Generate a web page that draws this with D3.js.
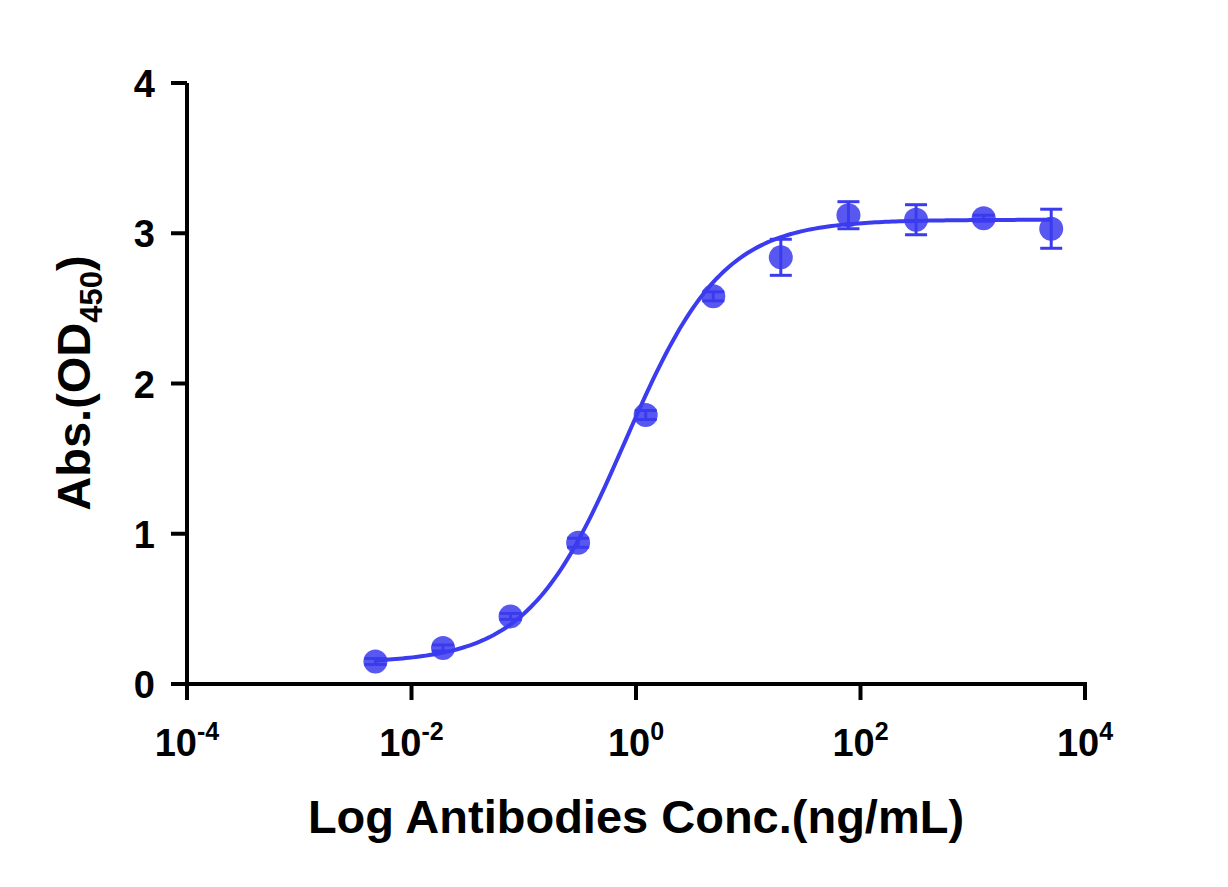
<!DOCTYPE html>
<html><head><meta charset="utf-8">
<script src="https://cdn.jsdelivr.net/npm/d3@7"></script>
<style>body{margin:0;background:#fff}svg{font-family:"Liberation Sans",Arial,sans-serif;font-weight:bold}</style>
</head><body><svg id="c" width="1228" height="887"></svg>
<script>
const conc = [0.00477,0.0191,0.0763,0.305,1.22,4.88,19.5,78.1,312.5,1250,5000];
const od = [0.15,0.24,0.45,0.94,1.79,2.58,2.84,3.12,3.09,3.10,3.03];
const err = [0.02,0.02,0.02,0.03,0.03,0.03,0.12,0.09,0.10,0.02,0.13];
const xTicks = [-4,-2,0,2,4];
const yTicks = [0,1,2,3,4];
const fit = {bottom:0.14, top:3.09, ec50:0.8, hill:1.0};

const svg = d3.select("#c");
const x = d3.scaleLog().domain([1e-4,1e4]).range([187,1085]);
const y = d3.scaleLinear().domain([0,4]).range([684,83]);
const col = "#3b3bef";

svg.append("line").attr("x1",187).attr("x2",187).attr("y1",83).attr("y2",686).attr("stroke","#000").attr("stroke-width",4);
svg.append("line").attr("x1",185).attr("x2",1087).attr("y1",684).attr("y2",684).attr("stroke","#000").attr("stroke-width",4);
yTicks.forEach(t=>{
  svg.append("line").attr("x1",171).attr("x2",187).attr("y1",y(t)).attr("y2",y(t)).attr("stroke","#000").attr("stroke-width",4);
  svg.append("text").attr("x",155).attr("y",y(t)+14).attr("text-anchor","end").attr("font-size",38).text(t);
});
xTicks.forEach(t=>{
  const px=x(Math.pow(10,t));
  svg.append("line").attr("x1",px).attr("x2",px).attr("y1",684).attr("y2",700).attr("stroke","#000").attr("stroke-width",4);
  const tx=svg.append("text").attr("x",px).attr("y",756).attr("text-anchor","middle").attr("font-size",38);
  tx.append("tspan").text("10");
  tx.append("tspan").attr("dy",-16).attr("font-size",25).text(t);
});
svg.append("text").attr("x",636).attr("y",833).attr("text-anchor","middle").attr("font-size",47).text("Log Antibodies Conc.(ng/mL)");
const yt=svg.append("text").attr("transform","translate(90,383) rotate(-90)").attr("text-anchor","middle").attr("font-size",47);
yt.append("tspan").text("Abs.(OD");
yt.append("tspan").attr("dy",12).attr("font-size",31).text("450");
yt.append("tspan").attr("dy",-12).text(")");

const curve = d3.range(0,201).map(i=>{
  const lc = Math.log10(conc[0]) + i/200*(Math.log10(conc[conc.length-1])-Math.log10(conc[0]));
  const c = Math.pow(10,lc);
  return [c, fit.bottom+(fit.top-fit.bottom)/(1+Math.pow(fit.ec50/c,fit.hill))];
});
svg.append("path").datum(curve).attr("fill","none").attr("stroke",col).attr("stroke-width",4)
  .attr("d",d3.line().x(d=>x(d[0])).y(d=>y(d[1])));

conc.forEach((c,i)=>{
  const px=x(c), y1=y(od[i]+err[i]), y2=y(od[i]-err[i]);
  const g=svg.append("g").attr("stroke",col).attr("stroke-width",3);
  g.append("line").attr("x1",px).attr("x2",px).attr("y1",y1).attr("y2",y2);
  g.append("line").attr("x1",px-11).attr("x2",px+11).attr("y1",y1).attr("y2",y1);
  g.append("line").attr("x1",px-11).attr("x2",px+11).attr("y1",y2).attr("y2",y2);
  svg.append("circle").attr("cx",px).attr("cy",y(od[i])).attr("r",12).attr("fill",col).attr("fill-opacity",0.85);
});
</script></body></html>
